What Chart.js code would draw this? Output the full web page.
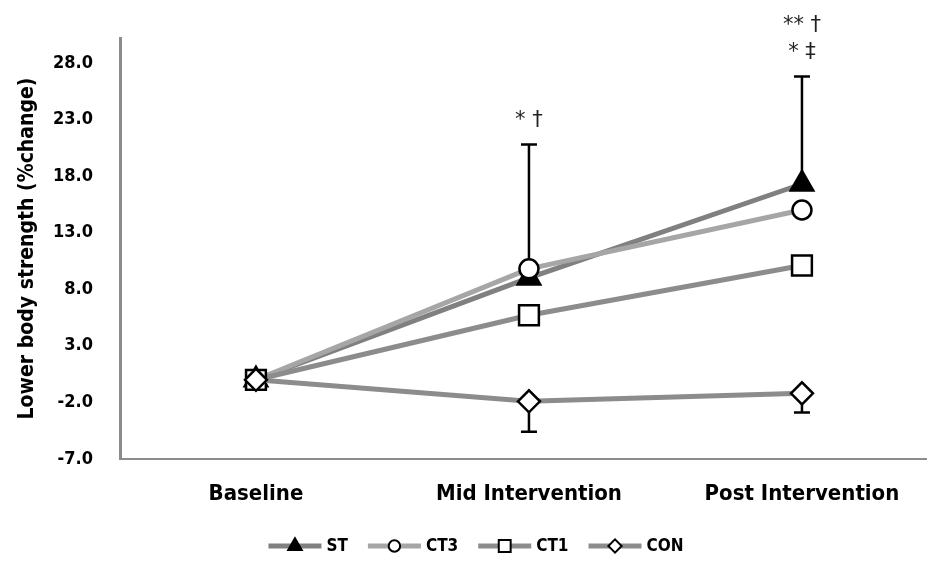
<!DOCTYPE html>
<html>
<head>
<meta charset="utf-8">
<script src="https://cdn.jsdelivr.net/npm/chart.js@4.4.1/dist/chart.umd.min.js"></script>
<style>
  html, body { margin: 0; padding: 0; background: #fff; }
  #wrap { width: 927px; height: 565px; }
</style>
</head>
<body>
<div id="wrap"><canvas id="strengthChart" width="927" height="565"></canvas></div>
<script>
// Categories and y ticks
const timepoints = ["Baseline", "Mid Intervention", "Post Intervention"];
const yTicks = [-7, -2, 3, 8, 13, 18, 23, 28];

// Series values (% change)
const stValues = [0, 9.0, 17.3];
const ct3Values = [0, 9.8, 15.0];
const ct1Values = [0, 5.7, 10.1];
const conValues = [0, -1.9, -1.2];

// Error bars (one-sided)
const stErrUp = [null, 11.8, 9.5];
const conErrDown = [null, 2.7, 1.7];

// Significance marks above ST error bars
const sigMarks = [null, ["* †"], ["** †", "* ‡"]];

const boldFont = "'DejaVu Sans Condensed', 'Liberation Sans Narrow', sans-serif";

function toPoints(values) {
  return values.map((v, i) => ({ x: i, y: v }));
}

const seriesDefs = [
  { label: "ST", data: stValues, color: "#808080", style: "triangle", radius: 13, fill: "#000", order: 3 },
  { label: "CT3", data: ct3Values, color: "#a6a6a6", style: "circle", radius: 9.5, fill: "#fff", order: 2 },
  { label: "CT1", data: ct1Values, color: "#8c8c8c", style: "rect", radius: 14, fill: "#fff", order: 1 },
  { label: "CON", data: conValues, color: "#8c8c8c", style: "rectRot", radius: 11, fill: "#fff", order: 0 },
];

const datasets = seriesDefs.map((s) => ({
  label: s.label,
  data: toPoints(s.data),
  borderColor: s.color,
  borderWidth: 5,
  pointStyle: s.style,
  pointRadius: s.radius,
  pointBackgroundColor: s.fill,
  pointBorderColor: "#000",
  pointBorderWidth: 2.5,
  order: s.order,
  tension: 0,
}));

// Error bars drawn under the markers
const errorBarPlugin = {
  id: "errorBars",
  beforeDatasetsDraw(chart) {
    const { ctx, scales } = chart;
    const x = scales.x, y = scales.y;
    ctx.save();
    ctx.strokeStyle = "#000";
    ctx.lineWidth = 2.5;
    const drawBar = (i, from, to) => {
      const px = x.getPixelForValue(i);
      const y0 = y.getPixelForValue(from);
      const y1 = y.getPixelForValue(to);
      ctx.beginPath();
      ctx.moveTo(px, y0);
      ctx.lineTo(px, y1);
      ctx.moveTo(px - 8, y1);
      ctx.lineTo(px + 8, y1);
      ctx.stroke();
    };
    stErrUp.forEach((e, i) => { if (e != null) drawBar(i, stValues[i], stValues[i] + e); });
    conErrDown.forEach((e, i) => { if (e != null) drawBar(i, conValues[i], conValues[i] - e); });

    // significance text
    ctx.fillStyle = "#222";
    ctx.font = "21px 'DejaVu Sans', sans-serif";
    ctx.textAlign = "center";
    ctx.textBaseline = "middle";
    sigMarks.forEach((lines, i) => {
      if (!lines) return;
      const px = x.getPixelForValue(i);
      const top = y.getPixelForValue(stValues[i] + stErrUp[i]);
      lines.slice().reverse().forEach((t, k) => {
        ctx.fillText(t, px, top - 24 - k * 27);
      });
    });
    ctx.restore();
  },
};

// Legend at the bottom: line with marker, then label
const lineLegendPlugin = {
  id: "lineLegend",
  afterDraw(chart) {
    const { ctx } = chart;
    ctx.save();
    ctx.font = "bold 17px " + boldFont;
    const lineLen = 53, gapText = 5, gapItem = 20;
    const widths = seriesDefs.map((s) => lineLen + gapText + ctx.measureText(s.label).width);
    const total = widths.reduce((a, b) => a + b, 0) + gapItem * (widths.length - 1);
    let xPos = 476 - total / 2;
    const yPos = 546;
    seriesDefs.forEach((s, i) => {
      ctx.strokeStyle = s.color;
      ctx.lineWidth = 5;
      ctx.beginPath();
      ctx.moveTo(xPos, yPos);
      ctx.lineTo(xPos + lineLen, yPos);
      ctx.stroke();
      ctx.fillStyle = s.fill;
      ctx.strokeStyle = "#000";
      ctx.lineWidth = 2;
      Chart.helpers.drawPoint(ctx, { pointStyle: s.style, radius: s.radius * 0.6, rotation: 0, borderWidth: 2 }, xPos + lineLen / 2, yPos);
      ctx.fillStyle = "#000";
      ctx.textAlign = "left";
      ctx.textBaseline = "middle";
      ctx.fillText(s.label, xPos + lineLen + gapText, yPos + 1);
      xPos += widths[i] + gapItem;
    });
    ctx.restore();
  },
};

new Chart(document.getElementById("strengthChart").getContext("2d"), {
  type: "line",
  data: { datasets: datasets },
  plugins: [errorBarPlugin, lineLegendPlugin],
  options: {
    responsive: false,
    animation: false,
    layout: { autoPadding: false, padding: { top: 38, bottom: 56, left: 0, right: 0 } },
    plugins: {
      legend: { display: false },
      tooltip: { enabled: false },
    },
    scales: {
      x: {
        type: "linear",
        min: -0.498,
        max: 2.458,
        afterBuildTicks(scale) {
          scale.ticks = timepoints.map((_, i) => ({ value: i }));
        },
        afterFit(scale) { scale.height = 50; },
        grid: { display: false },
        border: { display: true, color: "#8c8c8c", width: 2 },
        ticks: {
          padding: 14,
          color: "#000",
          font: { family: boldFont, size: 22, weight: "bold" },
          callback: (v) => timepoints[v],
          maxRotation: 0,
        },
      },
      y: {
        min: -7,
        max: 30.2,
        afterBuildTicks(scale) {
          scale.ticks = yTicks.map((v) => ({ value: v }));
        },
        afterFit(scale) { scale.width = 120; },
        grid: { display: false },
        border: { display: true, color: "#8c8c8c", width: 3 },
        ticks: {
          padding: 19,
          color: "#000",
          font: { family: boldFont, size: 18, weight: "bold" },
          callback: (v) => v.toFixed(1),
        },
        title: {
          display: true,
          text: "Lower body strength (%change)",
          color: "#000",
          padding: { top: 15, bottom: 0 },
          font: { family: boldFont, size: 21, weight: "bold" },
        },
      },
    },
  },
});
</script>
</body>
</html>
